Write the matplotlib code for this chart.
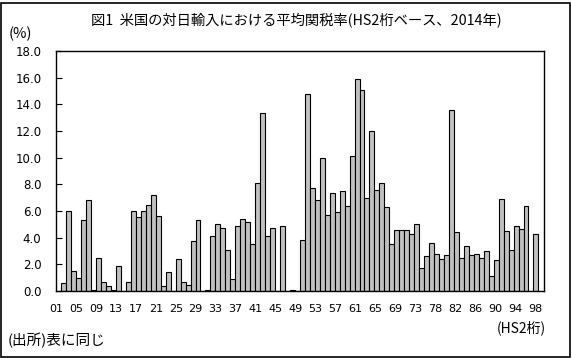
import matplotlib
matplotlib.use("Agg")
import matplotlib.pyplot as plt
from matplotlib.patches import Rectangle

plt.rcParams['font.family'] = ['Noto Sans CJK JP', 'DejaVu Sans']

# HS2 chapters shown as bars (96 bars in the chart)
bar_codes = ["%02d" % c for c in range(1, 99) if c not in (27, 77)]

tariff = [
    0.6, 6.0, 1.5, 1.0, 5.3, 6.8, 0.1, 2.5, 0.7, 0.4,        # 01-10
    0.1, 1.9, 0.0, 0.7, 6.0, 5.55, 6.0, 6.45, 7.2, 5.6,      # 11-20
    0.35, 1.4, 0.0, 2.4, 0.65, 0.43, 3.75, 5.3, 0.0, 0.08,   # 21-31 (no 27)
    4.1, 5.0, 4.7, 3.1, 0.9, 4.9, 5.4, 5.15, 3.5, 8.1,       # 32-41
    13.35, 4.1, 4.7, 0.0, 4.9, 0.0, 0.08, 0.0, 3.8, 14.75,   # 42-51
    7.7, 6.8, 10.0, 5.7, 7.35, 5.9, 7.5, 6.4, 10.1, 15.9,    # 52-61
    15.05, 6.95, 12.0, 7.55, 8.1, 6.3, 3.5, 4.55, 4.55, 4.55, # 62-71
    4.25, 5.0, 1.7, 2.6, 3.6, 2.78, 2.38, 2.68, 13.55, 4.4,  # 72-82 (no 77)
    2.45, 3.35, 2.68, 2.75, 2.45, 2.98, 1.1, 2.3, 6.88, 4.48, # 83-92
    3.05, 4.85, 4.63, 6.35, 0.0, 4.25,                       # 93-98
]

x_tick_labels = ["01", "05", "09", "13", "17", "21", "25", "29", "33", "37",
                 "41", "45", "49", "53", "57", "61", "65", "69", "73", "78",
                 "82", "86", "90", "94", "98"]

y_ticks = [0, 2, 4, 6, 8, 10, 12, 14, 16, 18]

title = "図1  米国の対日輸入における平均関税率(HS2桁ベース、2014年)"
unit_label = "(%)"
x_unit = "(HS2桁)"
source = "(出所)表に同じ"

W, H = 572, 358
fig = plt.figure(figsize=(W / 100, H / 100), dpi=100)
fig.patch.set_facecolor("white")

# outer border
fig.add_artist(Rectangle((1 / W, 1 / H), (W - 3) / W, (H - 4) / H,
                         transform=fig.transFigure, fill=False,
                         edgecolor="black", linewidth=1.2))

left, right, top, bottom = 56, 544, 51, 291
ax = fig.add_axes([left / W, 1 - bottom / H, (right - left) / W, (bottom - top) / H])

x = list(range(len(bar_codes)))
ax.bar(x, tariff, width=1.0, color="#C0C0C0", edgecolor="black", linewidth=0.8)

ax.set_xlim(-1.57, len(bar_codes) + 0.62)
ax.set_ylim(0, 18)
ax.set_yticks(y_ticks)
ax.set_yticklabels(["%.1f" % v for v in y_ticks], fontsize=8.5,
                   family=['DejaVu Sans'])
ax.tick_params(axis="y", direction="in", length=4, width=0.8, pad=10.5)
ax.set_xticks([])
for s in ax.spines.values():
    s.set_linewidth(1.0)

# category labels, evenly spread under the plot
lab = ax.twiny()
lab.set_xlim(0.05, 24.45)
lab.xaxis.set_ticks_position("bottom")
lab.xaxis.set_label_position("bottom")
lab.set_xticks(range(len(x_tick_labels)))
lab.set_xticklabels(x_tick_labels, fontsize=8, family=['DejaVu Sans'])
lab.tick_params(axis="x", length=0, pad=9)
for s in lab.spines.values():
    s.set_visible(False)

fig.text(296 / W, 1 - 20 / H, title, ha="center", va="center", fontsize=10.3)
fig.text(9 / W, 1 - 34 / H, unit_label, ha="left", va="center", fontsize=10.5)
fig.text(546 / W, 1 - 328 / H, x_unit, ha="right", va="center", fontsize=10)
fig.text(8 / W, 1 - 340 / H, source, ha="left", va="center", fontsize=10.5)

fig.savefig("out.png", dpi=100)
